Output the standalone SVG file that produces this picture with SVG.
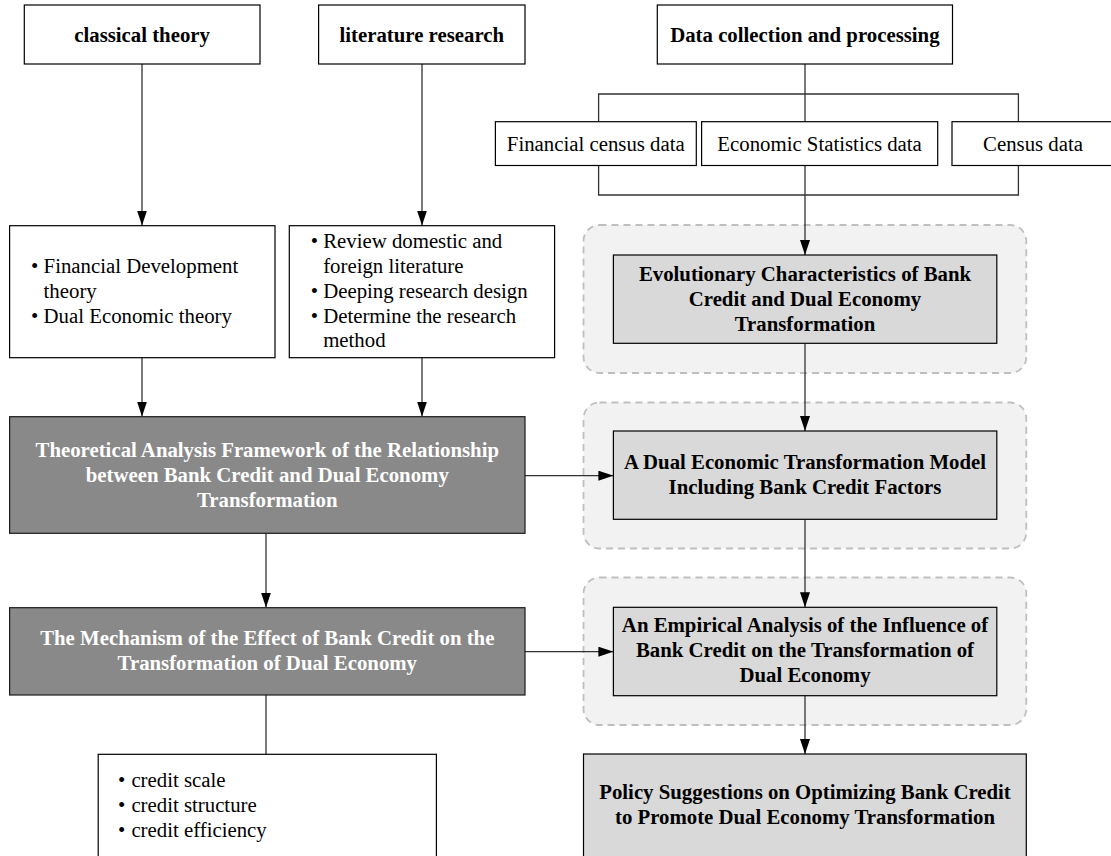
<svg xmlns="http://www.w3.org/2000/svg" width="1111" height="856" viewBox="0 0 1111 856">
<style>
.box{fill:#fff;stroke:#000;stroke-width:1.2}
.dark{fill:#898989;stroke:#1a1a1a;stroke-width:1.2}
.light{fill:#d9d9d9;stroke:#000;stroke-width:1.2}
.grp{fill:#f2f2f2;stroke:#bfbfbf;stroke-width:1.8;stroke-dasharray:7 5}
.t{font-family:"Liberation Serif","Times New Roman",serif;font-size:20.8px;fill:#000}
.b{font-weight:bold}
.w{fill:#fff}
.c{text-anchor:middle}
.ln{fill:none;stroke:#333;stroke-width:1.3}
</style>
<defs>
<marker id="ah" viewBox="0 0 15 10" refX="15" refY="5" markerWidth="15" markerHeight="10" markerUnits="userSpaceOnUse" orient="auto">
<path d="M0,0 L15,5 L0,10 z" fill="#000"/>
</marker>
</defs>
<g id="groups">
<rect class="grp" x="583.5" y="225" width="442.8" height="148" rx="16"/>
<rect class="grp" x="583.5" y="402.5" width="442.8" height="146" rx="16"/>
<rect class="grp" x="583.5" y="577.5" width="442.8" height="147.5" rx="16"/>
</g>
<g id="connectors">
<line class="ln" x1="142" y1="64" x2="142" y2="225.5" marker-end="url(#ah)"/>
<line class="ln" x1="422" y1="64" x2="422" y2="225.5" marker-end="url(#ah)"/>
<path class="ln" d="M805,64 V121.7 M598.6,121.7 V94 H1018.4 V121.7 M598.6,165.5 V195 H1018.4 V165.5"/>
<line class="ln" x1="805" y1="165.5" x2="805" y2="255" marker-end="url(#ah)"/>
<line class="ln" x1="142" y1="357.7" x2="142" y2="416.5" marker-end="url(#ah)"/>
<line class="ln" x1="422" y1="357.7" x2="422" y2="416.5" marker-end="url(#ah)"/>
<line class="ln" x1="805" y1="343.3" x2="805" y2="431" marker-end="url(#ah)"/>
<line class="ln" x1="525" y1="475.7" x2="613.4" y2="475.7" marker-end="url(#ah)"/>
<line class="ln" x1="266" y1="533.3" x2="266" y2="607.5" marker-end="url(#ah)"/>
<line class="ln" x1="805" y1="519.3" x2="805" y2="607.3" marker-end="url(#ah)"/>
<line class="ln" x1="525" y1="651.7" x2="613.4" y2="651.7" marker-end="url(#ah)"/>
<line class="ln" x1="805" y1="695.7" x2="805" y2="754" marker-end="url(#ah)"/>
<line class="ln" x1="266" y1="695" x2="266" y2="754.3"/>
</g>
<g id="classical">
<rect class="box" x="24.3" y="5" width="235.7" height="59"/>
<text class="t b c" x="142.1" y="41.5">classical theory</text>
</g>
<g id="literature">
<rect class="box" x="318.6" y="5" width="206.4" height="59"/>
<text class="t b c" x="421.8" y="41.5">literature research</text>
</g>
<g id="data">
<rect class="box" x="657.3" y="5" width="295.2" height="59"/>
<text class="t b c" x="804.9" y="41.5">Data collection and processing</text>
</g>
<g id="financial-census">
<rect class="box" x="495.4" y="121.7" width="200.9" height="43.8"/>
<text class="t c" x="595.8" y="150.5">Financial census data</text>
</g>
<g id="economic-stats">
<rect class="box" x="701.6" y="121.7" width="236.1" height="43.8"/>
<text class="t c" x="819.6" y="150.5">Economic Statistics data</text>
</g>
<g id="census">
<rect class="box" x="952" y="121.7" width="162" height="43.8"/>
<text class="t c" x="1033" y="150.5">Census data</text>
</g>
<g id="theories">
<rect class="box" x="9.6" y="225.7" width="265.4" height="132"/>
<text class="t"><tspan x="31" y="273">•</tspan><tspan x="43.6" y="273">Financial Development</tspan><tspan x="43.6" y="298">theory</tspan><tspan x="31" y="323">•</tspan><tspan x="43.6" y="323">Dual Economic theory</tspan></text>
</g>
<g id="lit-tasks">
<rect class="box" x="289.3" y="225.7" width="265.3" height="132"/>
<text class="t"><tspan x="310.7" y="247.5">•</tspan><tspan x="323.2" y="247.5">Review domestic and</tspan><tspan x="323.2" y="272.5">foreign literature</tspan><tspan x="310.7" y="297.5">•</tspan><tspan x="323.2" y="297.5">Deeping research design</tspan><tspan x="310.7" y="322.5">•</tspan><tspan x="323.2" y="322.5">Determine the research</tspan><tspan x="323.2" y="347">method</tspan></text>
</g>
<g id="framework">
<rect class="dark" x="9.6" y="416.7" width="515.4" height="116.6"/>
<text class="t b w c"><tspan x="267.3" y="457">Theoretical Analysis Framework of the Relationship</tspan><tspan x="267.3" y="482">between Bank Credit and Dual Economy</tspan><tspan x="267.3" y="507">Transformation</tspan></text>
</g>
<g id="mechanism">
<rect class="dark" x="9.6" y="607.7" width="515.4" height="87.3"/>
<text class="t b w c"><tspan x="267.3" y="644.5">The Mechanism of the Effect of Bank Credit on the</tspan><tspan x="267.3" y="669.5">Transformation of Dual Economy</tspan></text>
</g>
<g id="credit">
<rect class="box" x="98.2" y="754.3" width="338.2" height="110"/>
<text class="t"><tspan x="117.9" y="786.5">•</tspan><tspan x="131.4" y="786.5">credit scale</tspan><tspan x="117.9" y="811.5">•</tspan><tspan x="131.4" y="811.5">credit structure</tspan><tspan x="117.9" y="836.5">•</tspan><tspan x="131.4" y="836.5">credit efficiency</tspan></text>
</g>
<g id="evolutionary">
<rect class="light" x="613.4" y="255" width="383.4" height="88.3"/>
<text class="t b c"><tspan x="805" y="281">Evolutionary Characteristics of Bank</tspan><tspan x="805" y="306">Credit and Dual Economy</tspan><tspan x="805" y="330.5">Transformation</tspan></text>
</g>
<g id="model">
<rect class="light" x="613.4" y="431" width="383.4" height="88.3"/>
<text class="t b c"><tspan x="805" y="468.5">A Dual Economic Transformation Model</tspan><tspan x="805" y="493.5">Including Bank Credit Factors</tspan></text>
</g>
<g id="empirical">
<rect class="light" x="613.4" y="607.3" width="383.4" height="88.4"/>
<text class="t b c"><tspan x="805" y="632">An Empirical Analysis of the Influence of</tspan><tspan x="805" y="657">Bank Credit on the Transformation of</tspan><tspan x="805" y="682">Dual Economy</tspan></text>
</g>
<g id="policy">
<rect class="light" x="583.5" y="754" width="442.8" height="110"/>
<text class="t b c"><tspan x="805" y="799">Policy Suggestions on Optimizing Bank Credit</tspan><tspan x="805" y="823.5">to Promote Dual Economy Transformation</tspan></text>
</g>
</svg>
